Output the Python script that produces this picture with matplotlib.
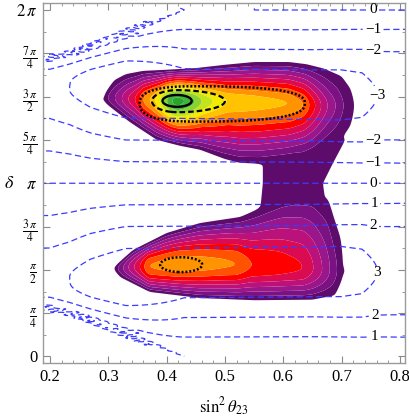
import numpy as np
import matplotlib
matplotlib.use("Agg")
import matplotlib.pyplot as plt

plt.rcParams['font.family'] = ['Liberation Serif', 'DejaVu Serif']
plt.rcParams['mathtext.fontset'] = 'stix'
plt.rcParams['lines.scale_dashes'] = False

# ---------------- filled allowed region (levels 0..14) ----------------
# upper lobe (delta ~ 3pi/2): peak level along sin^2(theta23)
up_s = [0.27, 0.289, 0.299, 0.311, 0.323, 0.334, 0.346, 0.354, 0.359, 0.371, 0.380,
        0.389, 0.394, 0.400, 0.408, 0.418, 0.432, 0.449, 0.46, 0.48, 0.503, 0.55,
        0.61, 0.635, 0.645, 0.655, 0.665, 0.676, 0.69, 0.703, 0.722, 0.745]
up_P = [-2, 0, 1, 2, 3, 4, 5, 6, 7, 8, 9, 10, 11, 12, 13, 13.6, 13, 12, 11, 10, 9,
        8.6, 8.0, 7, 6, 5, 4, 3, 2, 1, 0, -2]
up_cs = [0.28, 0.35, 0.418, 0.5, 0.6, 0.66, 0.73]
up_c = [4.70, 4.66, 4.635, 4.63, 4.60, 4.55, 4.55]
up_ts = [0.289, 0.30, 0.31, 0.33, 0.36, 0.40, 0.45, 0.50, 0.55, 0.61, 0.64, 0.67, 0.70, 0.722]
up_t = [4.70, 4.87, 5.01, 5.12, 5.18, 5.20, 5.23, 5.29, 5.34, 5.34, 5.30, 5.22, 5.08, 4.75]
up_bs = [0.289, 0.30, 0.337, 0.383, 0.423, 0.457, 0.50, 0.526, 0.56, 0.60, 0.65, 0.70, 0.722]
up_b = [4.66, 4.55, 4.25, 3.93, 3.82, 3.75, 3.58, 3.51, 3.50, 3.55, 3.65, 3.95, 4.30]

# lower lobe (delta ~ pi/2)
lo_s = [0.29, 0.306, 0.316, 0.325, 0.334, 0.344, 0.354, 0.362, 0.368, 0.42, 0.47,
        0.52, 0.545, 0.59, 0.634, 0.652, 0.667, 0.68, 0.692, 0.706, 0.72]
lo_P = [-2, 0, 1, 2, 3, 4, 5, 6, 7, 7.75, 7.4, 7.0, 6.0, 5.6, 5.0, 4, 3, 2, 1, 0, -2]
lo_cs = [0.30, 0.42, 0.5, 0.6, 0.71]
lo_c = [1.60, 1.67, 1.68, 1.64, 1.55]
lo_ts = [0.306, 0.342, 0.40, 0.457, 0.526, 0.555, 0.60, 0.65, 0.677, 0.689, 0.702, 0.706]
lo_t = [1.60, 1.93, 2.24, 2.42, 2.53, 2.66, 2.90, 3.00, 2.85, 2.44, 2.02, 1.60]
lo_bs = [0.306, 0.32, 0.371, 0.457, 0.55, 0.65, 0.689, 0.706]
lo_b = [1.60, 1.44, 1.17, 1.06, 1.02, 1.03, 1.11, 1.50]

# bridge around delta = pi (profiles along delta)
br_d = [2.3, 2.5, 3.9, 4.1]
br_P = [-1, 0.95, 0.95, -1]
br_cd = [2.3, 2.6, 3.14, 3.5, 3.9, 4.2]
br_left = [0.57, 0.56, 0.565, 0.565, 0.58, 0.60]
br_right = [0.67, 0.675, 0.668, 0.685, 0.705, 0.715]

band_colors = ['#5e0c6c', '#7b1284', '#99168b', '#bb117a', '#da0b50', '#ff0000',
               '#ff5300', '#ff9300', '#ffc300', '#f4ec00', '#c5e31b', '#8bd22e',
               '#40b53c', '#2aa52b']

# black contours of the best-fit regions
ring_s0 = [0.418, 0.418, 0.45, 0.425]
ring_d0 = [4.635, 4.63, 4.59, 1.665]
ring_l = [0.025, 0.043, 0.096, 0.036]
ring_r = [0.025, 0.082, 0.187, 0.036]
ring_u = [0.107, 0.20, 0.31, 0.135]
ring_dn = [0.107, 0.20, 0.33, 0.135]
ring_n = [2, 2, 2.6, 2]

# ---------------- blue dashed contours ----------------
bl_s = [0.20, 0.234, 0.27, 0.33, 0.43, 0.65, 0.70, 0.735, 0.763, 0.80, 0.82]
bl_C = [1.85, 2.03, 2.35, 2.70, 2.70, 2.70, 2.75, 2.80, 2.80, 2.85, 2.85]
bl_k = [0.995, 0.995, 0.995, 0.99, 0.99, 0.99, 0.97, 0.88, 0.58, 0.30, 0.25]
bl_ws = [0.20, 0.43]
bl_W = [2.30, np.pi]
bl_xs = [0.20, 0.33, 0.50, 0.80]
bl_xp = [1.70, 1.66, 1.64, 1.60]
bl_ms = [0.20, 0.33, 0.43]
bl_m = [2.4, 1.8, 1.0]
blue_levels = [-3, -2, -1, 0, 1, 2, 3]
blue_lab_s = [0.754, 0.754, 0.754, 0.763, 0.754, 0.754, 0.754, 0.756, 0.756, 0.764, 0.756, 0.757]
blue_lab_d = [6.28, 5.92, 5.52, 4.74, 3.98, 3.56, 3.14, 2.82, 2.53, 1.53, 0.81, 0.37]


def lobe(S, D, s_k, p_k, cs_k, c_k, ts_k, t_k, bs_k, b_k, e=0.04):
    P = np.interp(S, s_k, p_k)
    c = np.interp(S, cs_k, c_k)
    top = np.interp(S, ts_k, t_k)
    bot = np.interp(S, bs_k, b_k)
    Pc = np.clip(P, 0.25, None)
    up = np.clip(top - c, 0.002, None)
    dn = np.clip(c - bot, 0.002, None)
    a_up = (np.sqrt(up**2 + e**2) - e) / Pc
    a_dn = (np.sqrt(dn**2 + e**2) - e) / Pc
    d = D - c
    a = np.clip(np.where(d > 0, a_up, a_dn), 1e-4, None)
    return P - (np.sqrt(d**2 + e**2) - e) / a


def blur(Z, sx, sy):
    for axis, sig in ((1, sx), (0, sy)):
        n = int(3 * sig) + 1
        k = np.exp(-0.5 * (np.arange(-n, n + 1) / sig)**2)
        k /= k.sum()
        pad = [(0, 0), (0, 0)]
        pad[axis] = (n, n)
        Zp = np.pad(Z, pad, mode='edge')
        Z = np.apply_along_axis(lambda v: np.convolve(v, k, mode='valid'), axis, Zp)
    return Z


s = np.linspace(0.18, 0.82, 640)
d = np.linspace(0.0, 2 * np.pi, 760)
S, D = np.meshgrid(s, d)
H_up = lobe(S, D, up_s, up_P, up_cs, up_c, up_ts, up_t, up_bs, up_b, e=0.15)
H_lo = lobe(S, D, lo_s, lo_P, lo_cs, lo_c, lo_ts, lo_t, lo_bs, lo_b, e=0.3)
br_mid = list((np.array(br_left) + np.array(br_right)) / 2)
H_br = lobe(D, S, br_d, br_P, br_cd, br_mid, br_cd, br_right, br_cd, br_left, e=0.01)
H = np.maximum(np.maximum(H_up, H_lo), H_br)
H = blur(H, 3.0, 4.0)


def magnitude(S, X):
    C = np.interp(S, bl_s, bl_C)
    k = np.interp(S, bl_s, bl_k)
    W = np.interp(S, bl_ws, bl_W)
    xp = np.interp(S, bl_xs, bl_xp)
    m = np.interp(S, bl_ms, bl_m)
    tp = xp / W
    t = X / W
    rise = 0.5 * np.pi * t / tp
    fall = 0.5 * np.pi + 0.5 * np.pi * np.clip((t - tp) / (1 - tp), 0, 1)**m
    u = np.where(t <= tp, rise, fall)
    g = C * np.arcsin(k * np.sin(u)) / k
    g = np.where(t <= 1, g, -0.35)
    wgt = np.clip((np.pi - W) / 0.25, 0, 1)
    g = g + wgt * 0.8 * np.exp(-((X - W + 0.04) / 0.09)**2) \
        * np.sin(131 * S + 23 * X) * np.sin(47 * S - 61 * X)
    return g


sb = np.linspace(0.18, 0.82, 520)
db = np.linspace(0.003, 2 * np.pi + 0.03, 900)
SB, DB = np.meshgrid(sb, db)
Dm = np.where(DB > 2 * np.pi, np.where(SB >= 0.55, DB - 2 * np.pi, 4 * np.pi - DB), DB)
G = magnitude(SB, np.abs(Dm - np.pi))
F = np.where(Dm < np.pi, G, -G)

# ---------------- draw ----------------
fig = plt.figure(figsize=(4.09, 4.17), dpi=100)
ax = fig.add_axes([0.105, 0.1295, 0.885, 0.8633])

ax.contourf(S, D, H, levels=np.arange(15), colors=band_colors, antialiased=True)

cs = ax.contour(SB, DB, F, levels=blue_levels, colors='#3b3bff', linewidths=0.9,
                linestyles=[(0, (4.5, 2.5))])
fmt = {v: ('\u2212%d' % -v if v < 0 else '%d' % v) for v in blue_levels}
ax.clabel(cs, fmt=fmt, fontsize=11, colors='k', inline=True, inline_spacing=2,
          manual=list(zip(blue_lab_s, blue_lab_d)))
for t in cs.labelTexts:
    t.set_rotation(0)

ring_style = ['solid', (0, (4.0, 2.2)), (0, (1.4, 1.4)), (0, (1.4, 1.4))]
ring_lw = [1.7, 1.6, 1.8, 1.8]
for i in range(len(ring_s0)):
    X = (S - ring_s0[i]) / np.where(S < ring_s0[i], ring_l[i], ring_r[i])
    Y = (D - ring_d0[i]) / np.where(D > ring_d0[i], ring_u[i], ring_dn[i])
    R = (np.abs(X)**ring_n[i] + np.abs(Y)**ring_n[i])**(1.0 / ring_n[i])
    ax.contour(S, D, R, levels=[1.0], colors='k', linewidths=ring_lw[i],
               linestyles=[ring_style[i]])

ax.set_xlim(0.188, 0.8086)
ax.set_ylim(-0.118, 6.41)

x_ticks = [0.2, 0.3, 0.4, 0.5, 0.6, 0.7, 0.8]
x_labels = ['0.2', '0.3', '0.4', '0.5', '0.6', '0.7', '0.8']
y_ticks = [i * np.pi / 4 for i in range(9)]
y_labels = ['0', r'$\frac{\pi}{4}$', r'$\frac{\pi}{2}$', r'$\frac{3\,\pi}{4}$', r'$\pi$',
            r'$\frac{5\,\pi}{4}$', r'$\frac{3\,\pi}{2}$', r'$\frac{7\,\pi}{4}$', r'$2\,\pi$']
ax.set_xticks(x_ticks)
ax.set_xticklabels(x_labels)
ax.set_xticks(np.arange(0.2, 0.81, 0.02), minor=True)
ax.set_yticks(y_ticks)
ax.set_yticklabels(y_labels)
ax.set_yticks([i * np.pi / 8 for i in range(17)], minor=True)
ax.tick_params(which='both', direction='in', top=True, right=True, color='#8a8a8a',
               labelsize=12, pad=4)
ax.tick_params(which='major', length=5, width=0.8)
ax.tick_params(which='minor', length=2.5, width=0.6)
for sp in ax.spines.values():
    sp.set_color('#9a9a9a')
    sp.set_linewidth(1.0)

ax.set_xlabel(r'$\sin^2\theta_{23}$', fontsize=12, labelpad=8)
ax.set_ylabel(r'$\delta$', fontsize=13, rotation=0, va='center')
ax.yaxis.set_label_coords(-0.094, 0.5)

fig.savefig('out.png', dpi=100)
